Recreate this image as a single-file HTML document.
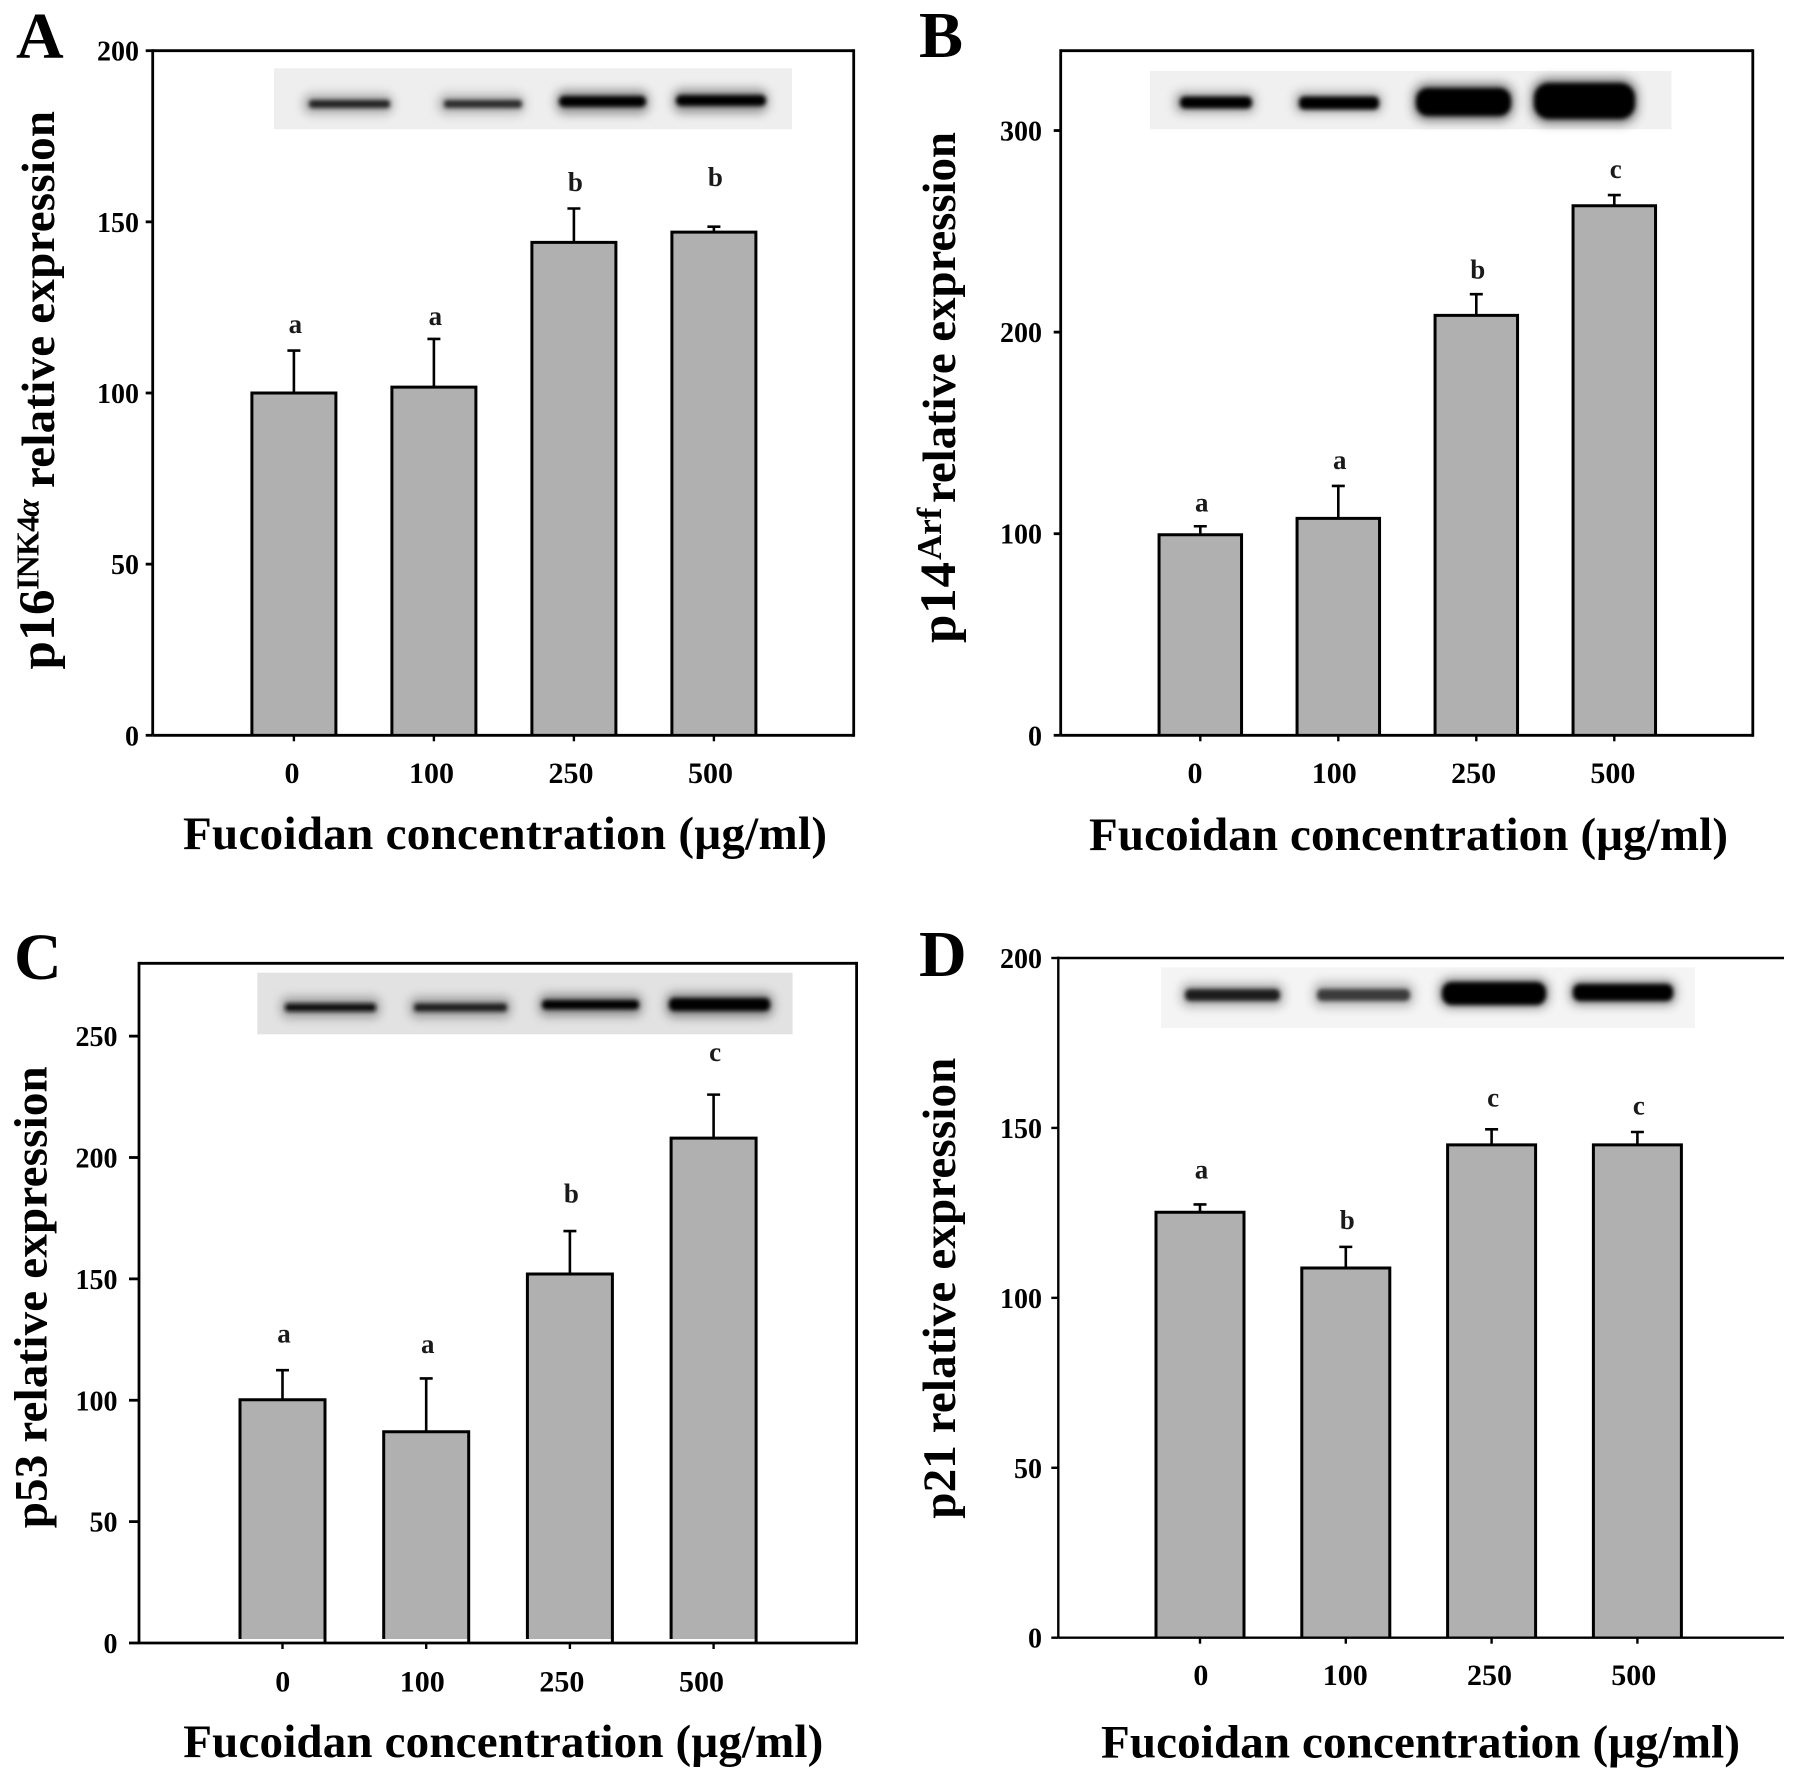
<!DOCTYPE html>
<html lang="en">
<head>
<meta charset="utf-8">
<title>Fucoidan concentration and relative protein expression</title>
<style>
html,body{margin:0;padding:0;background:#fff}
svg{display:block}
text{font-family:"Liberation Serif",serif;font-weight:bold;fill:#000}
.panel-letter{font-size:66px}
.y-title{font-size:47px}
.y-prefix{font-size:51px}
.y-sup{font-size:32px}
.x-title{font-size:47px}
.x-tick{font-size:30px;text-anchor:middle}
.y-tick{font-size:28px;text-anchor:end}
.sig{font-size:27px;text-anchor:middle;fill:#1a1a1a}
</style>
</head>
<body>
<svg id="figure" xmlns="http://www.w3.org/2000/svg" width="1795" height="1781" viewBox="0 0 1795 1781">
<defs>
<filter id="b1" x="-20%" y="-100%" width="140%" height="300%"><feGaussianBlur stdDeviation="2.2"/></filter>
<filter id="b2" x="-30%" y="-150%" width="160%" height="400%"><feGaussianBlur stdDeviation="5"/></filter>
</defs>
<rect width="1795" height="1781" fill="#fff"/>

<g id="panel-a">
<text class="panel-letter" x="16" y="58">A</text>
<g>
<rect x="274" y="68.3" width="518" height="61" fill="#eeeeee"/>
<rect x="303" y="94" width="90" height="20" rx="8" fill="#777" opacity=".55" filter="url(#b2)"/>
<rect x="309" y="100" width="81" height="8" rx="3" fill="#222" filter="url(#b1)"/>
<rect x="438" y="94" width="87" height="20" rx="8" fill="#777" opacity=".5" filter="url(#b2)"/>
<rect x="444" y="100" width="78" height="8" rx="3" fill="#2a2a2a" filter="url(#b1)"/>
<rect x="556" y="90" width="93" height="24" rx="9" fill="#555" opacity=".6" filter="url(#b2)"/>
<rect x="559" y="96" width="87" height="11" rx="5" fill="#000" filter="url(#b1)"/>
<rect x="673" y="89" width="95" height="24" rx="9" fill="#555" opacity=".6" filter="url(#b2)"/>
<rect x="676" y="95" width="90" height="11" rx="5" fill="#000" filter="url(#b1)"/>
</g>
<text class="y-prefix" transform="translate(54,669.5) rotate(-90)" textLength="80">p16</text>
<text class="y-sup" transform="translate(38.5,590) rotate(-90)" textLength="91">INK4<tspan font-style="italic">α</tspan></text>
<text class="y-title" transform="translate(54,488) rotate(-90)" textLength="377">relative expression</text>
<text class="x-title" x="183" y="849" textLength="644">Fucoidan concentration (μg/ml)</text>
</g>

<g id="panel-b">
<text class="panel-letter" x="919" y="57">B</text>
<g>
<rect x="1150" y="71" width="521.5" height="58.3" fill="#f0f0f0"/>
<rect x="1175" y="92" width="80" height="21" rx="7" fill="#555" opacity=".5" filter="url(#b2)"/>
<rect x="1180" y="96.5" width="72" height="12" rx="5" fill="#000" filter="url(#b1)"/>
<rect x="1295" y="92" width="87" height="21" rx="7" fill="#555" opacity=".5" filter="url(#b2)"/>
<rect x="1299" y="96.5" width="80" height="13" rx="5" fill="#000" filter="url(#b1)"/>
<rect x="1413" y="83" width="101" height="38" rx="14" fill="#333" opacity=".6" filter="url(#b2)"/>
<rect x="1416" y="88" width="95" height="28" rx="12" fill="#000" filter="url(#b1)"/>
<rect x="1531" y="78" width="107" height="46" rx="17" fill="#333" opacity=".6" filter="url(#b2)"/>
<rect x="1534" y="83" width="101" height="36" rx="15" fill="#000" filter="url(#b1)"/>
</g>
<text class="y-prefix" transform="translate(955,643) rotate(-90)" textLength="81">p14</text>
<text class="y-sup" transform="translate(941,560) rotate(-90)" style="font-size:35px">Arf</text>
<text class="y-title" transform="translate(955,503) rotate(-90)" textLength="371">relative expression</text>
<text class="x-title" x="1089" y="850" textLength="639">Fucoidan concentration (μg/ml)</text>
</g>

<g id="panel-c">
<text class="panel-letter" x="14" y="979">C</text>
<g>
<rect x="257.3" y="972.7" width="535.3" height="61.6" fill="#e2e2e2"/>
<rect x="281" y="997" width="99" height="21" rx="7" fill="#666" opacity=".55" filter="url(#b2)"/>
<rect x="285" y="1003.5" width="91" height="8" rx="3" fill="#111" filter="url(#b1)"/>
<rect x="410" y="997" width="101" height="21" rx="7" fill="#666" opacity=".55" filter="url(#b2)"/>
<rect x="414" y="1003.5" width="93" height="8" rx="3" fill="#1c1c1c" filter="url(#b1)"/>
<rect x="539" y="994" width="103" height="22" rx="7" fill="#555" opacity=".6" filter="url(#b2)"/>
<rect x="542" y="1000" width="97" height="9.5" rx="4" fill="#000" filter="url(#b1)"/>
<rect x="666" y="993" width="107" height="24" rx="8" fill="#444" opacity=".6" filter="url(#b2)"/>
<rect x="669" y="998" width="101" height="13" rx="5" fill="#000" filter="url(#b1)"/>
</g>
<text class="y-title" transform="translate(46.6,1528.3) rotate(-90)" textLength="462">p53 relative expression</text>
<text class="x-title" x="183.3" y="1757" textLength="640">Fucoidan concentration (μg/ml)</text>
</g>

<g id="panel-d">
<text class="panel-letter" x="919" y="976">D</text>
<g>
<rect x="1161" y="967.3" width="534" height="60.7" fill="#f4f4f4"/>
<rect x="1181" y="983" width="103" height="24" rx="8" fill="#777" opacity=".55" filter="url(#b2)"/>
<rect x="1185" y="989" width="95" height="12" rx="5" fill="#1a1a1a" filter="url(#b1)"/>
<rect x="1313" y="982" width="101" height="25" rx="8" fill="#888" opacity=".55" filter="url(#b2)"/>
<rect x="1317" y="989" width="93" height="12" rx="5" fill="#3a3a3a" filter="url(#b1)"/>
<rect x="1439" y="978" width="110" height="30" rx="11" fill="#444" opacity=".6" filter="url(#b2)"/>
<rect x="1442" y="982" width="104" height="23" rx="10" fill="#000" filter="url(#b1)"/>
<rect x="1570" y="980" width="106" height="25" rx="9" fill="#444" opacity=".6" filter="url(#b2)"/>
<rect x="1573" y="984" width="100" height="17" rx="7" fill="#000" filter="url(#b1)"/>
</g>
<text class="y-title" transform="translate(955,1518.7) rotate(-90)" textLength="461">p21 relative expression</text>
<text class="x-title" x="1101" y="1757.5" textLength="639">Fucoidan concentration (μg/ml)</text>
</g>
</svg>

<script>
// Shared categories
const categories = ['0', '100', '250', '500'];

// Panel A: p16 INK4a
const yTicksA = [0, 50, 100, 150, 200];
const valuesA = [100, 101.7, 144, 147];
const errorHighA = [112.4, 115.8, 153.9, 148.6];
const sigLettersA = ['a', 'a', 'b', 'b'];
const sigLevelsA = [117.6, 119.9, 159, 160.5];

// Panel B: p14 Arf
const yTicksB = [0, 100, 200, 300];
const valuesB = [99.5, 107.6, 208.3, 262.7];
const errorHighB = [103.7, 123.7, 218.8, 268];
const sigLettersB = ['a', 'a', 'b', 'c'];
const sigLevelsB = [111, 132.2, 226.5, 276.4];

// Panel C: p53
const yTicksC = [0, 50, 100, 150, 200, 250];
const valuesC = [100.2, 87, 152, 208];
const errorHighC = [112.4, 109, 169.7, 225.9];
const sigLettersC = ['a', 'a', 'b', 'c'];
const sigLevelsC = [123.8, 119.4, 181.4, 239.7];

// Panel D: p21
const yTicksD = [0, 50, 100, 150, 200];
const valuesD = [125.2, 108.8, 145, 145];
const errorHighD = [127.5, 115, 149.6, 148.8];
const sigLettersD = ['a', 'b', 'c', 'c'];
const sigLevelsD = [135.1, 120.2, 156.3, 154];

const SVG_NS = 'http://www.w3.org/2000/svg';

function mk(parent, tag, attrs, content) {
  const el = document.createElementNS(SVG_NS, tag);
  for (const k in attrs) el.setAttribute(k, attrs[k]);
  if (content !== undefined) el.textContent = content;
  parent.appendChild(el);
  return el;
}

function drawPanel(cfg) {
  const root = document.getElementById(cfg.id);
  const yScale = v => cfg.bottom - (v / cfg.max) * (cfg.bottom - cfg.top);
  const xScale = i => cfg.x0 + i * cfg.step;
  const labelX = i => cfg.labelX0 + i * cfg.labelStep;
  const lineAttrs = { stroke: '#000', 'stroke-width': cfg.axisW };
  let el;

  // bars
  cfg.values.forEach((v, i) => {
    const cx = xScale(i);
    const left = cx - cfg.barW / 2;
    const right = cx + cfg.barW / 2;
    const yTop = yScale(v);
    el = mk(root, 'rect', { x: left, y: yTop, width: cfg.barW, height: cfg.bottom - cfg.gap - yTop, fill: '#b0b0b0' });
    
    
    el = mk(root, 'path', {
      d: 'M' + left + ' ' + (cfg.bottom - cfg.gap) + 'V' + yTop + 'H' + right + 'V' + cfg.bottom,
      fill: 'none', stroke: '#000', 'stroke-width': 3
    });
    
    
  });

  // error bars
  cfg.errorHigh.forEach((e, i) => {
    const cx = xScale(i);
    const yE = yScale(e);
    el = mk(root, 'path', {
      d: 'M' + cx + ' ' + yScale(cfg.values[i]) + 'V' + yE + 'M' + (cx - 6.5) + ' ' + yE + 'H' + (cx + 6.5),
      fill: 'none', stroke: '#000', 'stroke-width': 2.6
    });
    
    
  });

  // significance letters
  cfg.sigLetters.forEach((s, i) => {
    el = mk(root, 'text', { class: 'sig', x: xScale(i) + 1.5, y: yScale(cfg.sigLevels[i]) }, s);
    
    
  });

  // frame
  el = mk(root, 'line', Object.assign({ x1: cfg.left, y1: cfg.top - 1.4, x2: cfg.left, y2: cfg.bottom }, lineAttrs));
  
  
  el = mk(root, 'line', Object.assign({ x1: cfg.left, y1: cfg.bottom, x2: cfg.right, y2: cfg.bottom }, lineAttrs));
  
  
  el = mk(root, 'line', Object.assign({ x1: cfg.left, y1: cfg.top, x2: cfg.right, y2: cfg.top }, lineAttrs));
  
  
  if (cfg.rightEdge) {
    el = mk(root, 'line', Object.assign({ x1: cfg.right, y1: cfg.top - 1.4, x2: cfg.right, y2: cfg.bottom + 1.4 }, lineAttrs));
    
    
  }

  // y ticks
  cfg.yTicks.forEach(t => {
    const y = yScale(t);
    el = mk(root, 'line', Object.assign({ x1: cfg.left - cfg.tickLen, y1: y, x2: cfg.left, y2: y }, lineAttrs));
    
    
    el = mk(root, 'text', { class: 'y-tick', x: cfg.yLabelX, y: y + 10 }, String(t));
    
    
  });

  // x ticks
  categories.forEach((c, i) => {
    el = mk(root, 'line', { x1: xScale(i), y1: cfg.bottom, x2: xScale(i), y2: cfg.bottom + 6, stroke: '#000', 'stroke-width': 2.4 });
    
    
    el = mk(root, 'text', { class: 'x-tick', x: labelX(i), y: cfg.labelY }, c);
    
    
  });
}

drawPanel({
  id: 'panel-a', left: 152.7, right: 853.7, top: 50.7, bottom: 735.3, max: 200,
  x0: 293.9, step: 140, barW: 84, gap: 1, axisW: 2.8, tickLen: 7, yLabelX: 139, rightEdge: true,
  labelX0: 292, labelStep: 139.5, labelY: 783,
  yTicks: yTicksA, values: valuesA, errorHigh: errorHighA, sigLetters: sigLettersA, sigLevels: sigLevelsA
});
drawPanel({
  id: 'panel-b', left: 1060.7, right: 1752.8, top: 50.7, bottom: 735.3, max: 339.6,
  x0: 1200.3, step: 138, barW: 82.5, gap: 1, axisW: 2.8, tickLen: 7, yLabelX: 1042, rightEdge: true,
  labelX0: 1195, labelStep: 139.3, labelY: 783,
  yTicks: yTicksB, values: valuesB, errorHigh: errorHighB, sigLetters: sigLettersB, sigLevels: sigLevelsB
});
drawPanel({
  id: 'panel-c', left: 139, right: 856.6, top: 963.3, bottom: 1643, max: 280,
  x0: 282.5, step: 143.7, barW: 85, gap: 4, axisW: 2.8, tickLen: 10, yLabelX: 117.5, rightEdge: true,
  labelX0: 282.7, labelStep: 139.6, labelY: 1691.7,
  yTicks: yTicksC, values: valuesC, errorHigh: errorHighC, sigLetters: sigLettersC, sigLevels: sigLevelsC
});
drawPanel({
  id: 'panel-d', left: 1058.3, right: 1784, top: 958, bottom: 1637.7, max: 200,
  x0: 1200, step: 145.8, barW: 88, gap: 1, axisW: 2.4, tickLen: 7, yLabelX: 1042, rightEdge: false,
  labelX0: 1200.9, labelStep: 144.3, labelY: 1685,
  yTicks: yTicksD, values: valuesD, errorHigh: errorHighD, sigLetters: sigLettersD, sigLevels: sigLevelsD
});
</script>
</body>
</html>
